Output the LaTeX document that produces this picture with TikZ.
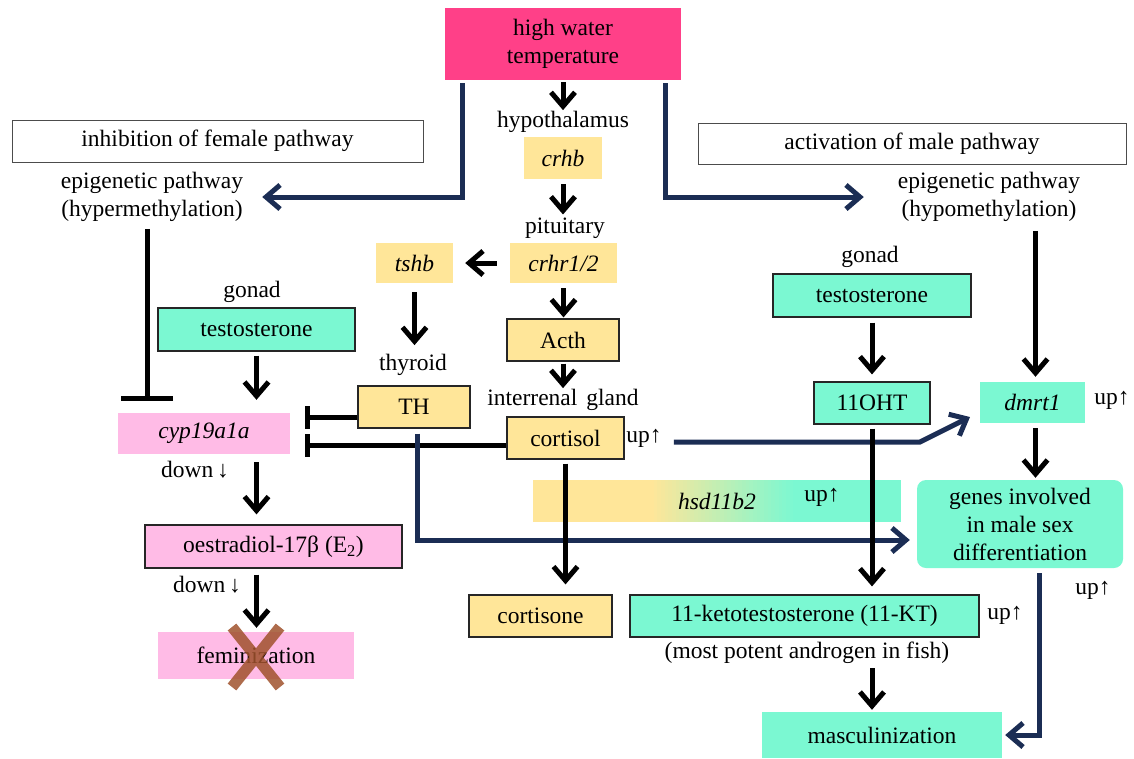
\documentclass[tikz,border=0pt]{standalone}
\usepackage{fontspec}
\setmainfont{Liberation Serif}
\usetikzlibrary{arrows.meta,calc}
\definecolor{hot}{HTML}{FF4088}
\definecolor{yel}{HTML}{FFE699}
\definecolor{tealc}{HTML}{7BF8D2}
\definecolor{pinkc}{HTML}{FFBBE6}
\definecolor{navy}{HTML}{1B2D54}
\definecolor{brownx}{HTML}{A0522D}
\begin{document}
\begin{tikzpicture}[x=1pt,y=-1pt,font=\fontsize{23.5}{28}\selectfont,
  bx/.style={inner sep=0pt,align=center},
  bd/.style={bx,draw=black!85,line width=1.2pt},
  lbl/.style={inner sep=1pt,align=center},
  barrow/.style={draw=black,line width=5pt,-{Straight Barb[length=14pt,width=24pt]}},
  narrow/.style={draw=navy,line width=5pt,-{Straight Barb[length=14pt,width=24pt]}},
  inhib/.style={draw=black,line width=5pt,-{Bar[width=23pt]}}]
\path[use as bounding box] (0,0) rectangle (1134,758);

% top
\node[bx,fill=hot,minimum width=236pt,minimum height=72pt] (hwt) at (563,44) {high water\\temperature};
\node[bx,draw=black!70,line width=1pt,minimum width=411pt,minimum height=42pt] (inh) at (217.5,141) {inhibition of female pathway};
\node[bx,draw=black!70,line width=1pt,minimum width=428pt,minimum height=41pt] (act) at (912,143.5) {activation of male pathway};
\node[lbl] (hyperT) at (152,197) {epigenetic pathway\\(hypermethylation)};
\node[lbl] (hypoT) at (989,197) {epigenetic pathway\\(hypomethylation)};

% central axis
\node[lbl] (hypth) at (563,122) {hypothalamus};
\node[bx,fill=yel,minimum width=78pt,minimum height=42pt] (crhb) at (563,158) {\itshape crhb};
\node[lbl] (pit) at (565,228) {pituitary};
\node[bx,fill=yel,minimum width=107pt,minimum height=40pt] (crhr) at (563.5,263) {\itshape crhr1/2};
\node[bx,fill=yel,minimum width=77pt,minimum height=40pt] (tshb) at (414.5,263) {\itshape tshb};
\node[lbl] (thy) at (413,365) {thyroid};
\node[bd,fill=yel,minimum width=112pt,minimum height=42pt] (TH) at (414,407) {TH};
\node[bd,fill=yel,minimum width=112pt,minimum height=42pt] (acth) at (563,340) {Acth};
\node[lbl] (inter) at (563,400) {interrenal\hspace{9pt}gland};
\node[bd,fill=yel,minimum width=117pt,minimum height=42pt] (cortisol) at (565.5,438) {cortisol};
\node[lbl] (cup) at (644,438) {up↑};
\node[bd,fill=yel,minimum width=143pt,minimum height=42pt] (cortisone) at (540.5,616) {cortisone};

% hsd11b2 band
\fill[yel] (533,480) rectangle (651,522);
\foreach \i in {0,...,39}{
  \pgfmathsetmacro{\p}{\i*100/39}
  \pgfmathsetmacro{\xa}{650+\i*147/40}
  \pgfmathsetmacro{\xb}{\xa+147/40+0.6}
  \fill[tealc!\p!yel] (\xa,480) rectangle (\xb,522);
}
\fill[tealc] (797,480) rectangle (901,522);
\node[bx,minimum width=368pt,minimum height=42pt] (hsd) at (717,501) {\itshape hsd11b2};
\node[lbl] (hup) at (822,497) {up↑};

% left (female)
\node[lbl] (gonL) at (252,292) {gonad};
\node[bd,fill=tealc,minimum width=197pt,minimum height=43pt] (testL) at (256.5,329.5) {testosterone};
\node[bx,fill=pinkc,minimum width=172pt,minimum height=41pt] (cyp) at (204,433.5) {\itshape cyp19a1a};
\node[lbl] (down1) at (195,470) {down\,↓};
\node[bd,fill=pinkc,minimum width=257pt,minimum height=43pt] (oest) at (273.5,546.5) {oestradiol-17β (E\textsubscript{2})};
\node[lbl] (down2) at (207,585) {down\,↓};
\node[bx,fill=pinkc,minimum width=196pt,minimum height=47pt] (fem) at (256,655.5) {feminization};

% right (male)
\node[lbl] (gonR) at (870,257) {gonad};
\node[bd,fill=tealc,minimum width=198pt,minimum height=43pt] (testR) at (872,295.5) {testosterone};
\node[bd,fill=tealc,minimum width=116pt,minimum height=42pt] (OHT) at (872,403) {11OHT};
\node[bx,fill=tealc,minimum width=105pt,minimum height=41pt] (dmrt) at (1032.5,402.5) {\itshape dmrt1};
\node[lbl] (dup) at (1112,400) {up↑};
\node[bx,fill=tealc,rounded corners=9pt,minimum width=206pt,minimum height=88pt] (genes) at (1020,524) {genes involved\\in male sex\\differentiation};
\node[lbl] (gup) at (1093,590) {up↑};
\node[bd,fill=tealc,minimum width=349pt,minimum height=42pt] (KT) at (804.5,616) {11-ketotestosterone (11-KT)};
\node[lbl] (kup) at (1005,615) {up↑};
\node[lbl] (most) at (807,653) {(most potent androgen in fish)};
\node[bx,fill=tealc,minimum width=240pt,minimum height=46pt] (masc) at (882,735) {masculinization};

\coordinate (hb) at (147,401);
\coordinate (bend) at (920,442);
\coordinate (dtip) at (970,417);

% inhibition lines
\draw[inhib,-{Bar[width=52pt]},shorten <=6pt] (hyperT.south -| hb) -- (hb);
\draw[inhib,shorten >=15pt] ($(TH.west)+(0,10)$) -- ($(TH.west -| cyp.east)+(0,10)$);
\draw[inhib,shorten >=15pt] ($(cortisol.west)+(0,7)$) -- ($(cortisol.west -| cyp.east)+(0,7)$);

% navy connectors
\draw[narrow,shorten <=3pt,shorten >=18pt] ([xshift=18pt]hwt.south west) |- (hyperT.east);
\draw[narrow,shorten <=3pt,shorten >=33pt] ([xshift=-16pt]hwt.south east) |- (hypoT.west);
\draw[narrow,shorten <=5pt,shorten >=7pt] ([xshift=3pt]TH.south) |- ($(genes.west)+(0,16)$);
\draw[narrow,shorten <=11pt] (cup.east |- bend) -- (bend) -- (dtip);
\draw[narrow,shorten <=5pt,shorten >=3pt] ([xshift=19pt]genes.south) |- (masc.east);

% black arrows
\draw[barrow,shorten <=2pt] (hwt.south) -- (hwt.south |- hypth.north);
\draw[barrow,shorten <=5pt,shorten >=2pt] (crhb.south) -- (crhb.south |- pit.north);
\draw[barrow,shorten <=13pt,shorten >=12pt] (crhr.west) -- (tshb.east);
\draw[barrow,shorten <=9pt,shorten >=8pt] (tshb.south) -- (tshb.south |- thy.north);
\draw[barrow,shorten <=5pt,shorten >=1pt] (crhr.south) -- (crhr.south |- acth.north);
\draw[barrow,shorten <=2pt] (acth.south) -- (acth.south |- inter.north);
\draw[barrow,shorten <=4pt,shorten >=10pt] (cortisol.south) -- (cortisol.south |- cortisone.north);
\draw[barrow,shorten <=4pt,shorten >=13pt] (testL.south) -- (testL.south |- cyp.north);
\draw[barrow,shorten <=8pt,shorten >=10pt] (testL.south |- cyp.south) -- (testL.south |- oest.north);
\draw[barrow,shorten <=6pt,shorten >=4pt] (testL.south |- oest.south) -- (testL.south |- fem.north);
\draw[barrow,shorten <=5pt,shorten >=7pt] (testR.south) -- (OHT.north);
\draw[barrow,shorten <=4pt,shorten >=8pt] (OHT.south) -- (OHT.south |- KT.north);
\draw[barrow,shorten <=8pt,shorten >=5pt] ([xshift=3pt]dmrt.north |- hypoT.south) -- ([xshift=3pt]dmrt.north);
\draw[barrow,shorten <=5pt,shorten >=2pt] ([xshift=3pt]dmrt.south) -- ([xshift=3pt]dmrt.south |- genes.north);
\draw[barrow,shorten <=3pt,shorten >=2pt] (most.south -| OHT.south) -- (masc.north -| OHT.south);

% feminization cross
\draw[brownx,opacity=.85,line width=11pt]
  ($(fem.center)+(-24,-28.5)$) -- ($(fem.center)+(24,31.5)$)
  ($(fem.center)+(24,-28.5)$) -- ($(fem.center)+(-24,31.5)$);
\end{tikzpicture}
\end{document}
